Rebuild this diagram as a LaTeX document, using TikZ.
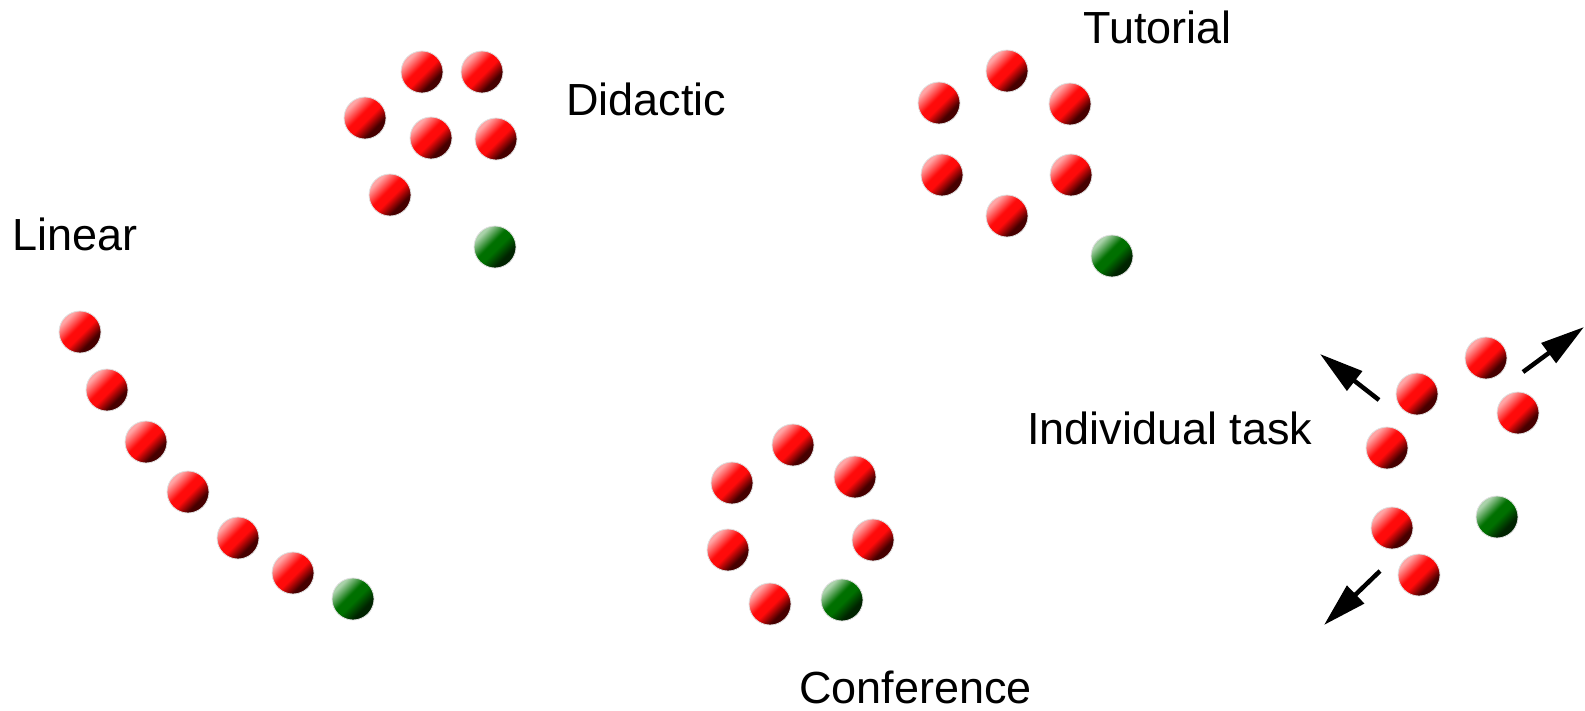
\documentclass[tikz,border=0pt]{standalone}
\usepackage{fontspec}
\setmainfont{Liberation Sans}
\usetikzlibrary{arrows.meta}

% sphere-like colours
\definecolor{redhi}{RGB}{255,165,165}
\definecolor{redmid}{RGB}{255,10,10}
\definecolor{redlow}{RGB}{70,0,0}
\definecolor{greenhi}{RGB}{170,210,170}
\definecolor{greenmid}{RGB}{0,112,0}
\definecolor{greenlow}{RGB}{0,35,0}

\pgfdeclareverticalshading{redball}{100bp}{%
  color(0bp)=(redlow); color(33bp)=(redlow); color(47bp)=(redmid);
  color(56bp)=(redmid); color(72bp)=(redhi); color(100bp)=(redhi)}
\pgfdeclareverticalshading{greenball}{100bp}{%
  color(0bp)=(greenlow); color(33bp)=(greenlow); color(47bp)=(greenmid);
  color(56bp)=(greenmid); color(72bp)=(greenhi); color(100bp)=(greenhi)}

\tikzset{
  ball/.style={circle, minimum size=42pt, inner sep=0pt,
    draw=black!12, line width=0.8pt, shading angle=45},
  redb/.style={ball, shading=redball},
  greenb/.style={ball, shading=greenball},
  label/.style={anchor=base west, inner sep=0pt,
    font=\fontsize{45}{54}\selectfont},
  push/.style={line width=4.5pt, -{Triangle[length=44pt,width=24pt]}}
}

\begin{document}
\begin{tikzpicture}[x=1pt,y=-1pt]
\useasboundingbox (0,0) rectangle (1585,710);

% Linear
\node[label] (tlin) at (12,250) {Linear};
\node[redb] (l1) at (80,332) {};
\node[redb] (l2) at (107,390) {};
\node[redb] (l3) at (146,442) {};
\node[redb] (l4) at (188,492) {};
\node[redb] (l5) at (238,538) {};
\node[redb] (l6) at (293,573) {};
\node[greenb] (lg) at (353,599) {};

% Didactic
\node[label] (tdid) at (566,115) {Didactic};
\node[redb] (d1) at (422,72) {};
\node[redb] (d2) at (482,72) {};
\node[redb] (d3) at (365,118) {};
\node[redb] (d4) at (431,138) {};
\node[redb] (d5) at (496,139) {};
\node[redb] (d6) at (390,195) {};
\node[greenb] (dg) at (495,247) {};

% Tutorial
\node[label] (ttut) at (1083,43) {Tutorial};
\node[redb] (u1) at (1007,71) {};
\node[redb] (u2) at (939,103) {};
\node[redb] (u3) at (1070,104) {};
\node[redb] (u4) at (942,175) {};
\node[redb] (u5) at (1071,175) {};
\node[redb] (u6) at (1007,216) {};
\node[greenb] (ug) at (1112,256) {};

% Conference
\node[label] (tcon) at (799,703) {Conference};
\node[redb] (c1) at (793,445) {};
\node[redb] (c2) at (732,483) {};
\node[redb] (c3) at (855,477) {};
\node[redb] (c4) at (873,540) {};
\node[redb] (c5) at (728,550) {};
\node[redb] (c6) at (770,604) {};
\node[greenb] (cg) at (842,600) {};

% Individual task
\node[label] (tind) at (1027,444) {Individual task};
\node[redb] (i1) at (1486,358) {};
\node[redb] (i2) at (1417,394) {};
\node[redb] (i3) at (1518,413) {};
\node[redb] (i4) at (1387,448) {};
\node[redb] (i5) at (1392,528) {};
\node[redb] (i6) at (1419,575) {};
\node[greenb] (ig) at (1497,517) {};

% outward motion
\coordinate (a1s) at (1379,400);
\coordinate (a1e) at (1320,354);
\coordinate (a2s) at (1523,372);
\coordinate (a2e) at (1584,327);
\coordinate (a3s) at (1380,571);
\coordinate (a3e) at (1324,625);
\draw[push] (a1s) -- (a1e);
\draw[push] (a2s) -- (a2e);
\draw[push] (a3s) -- (a3e);
\end{tikzpicture}
\end{document}
